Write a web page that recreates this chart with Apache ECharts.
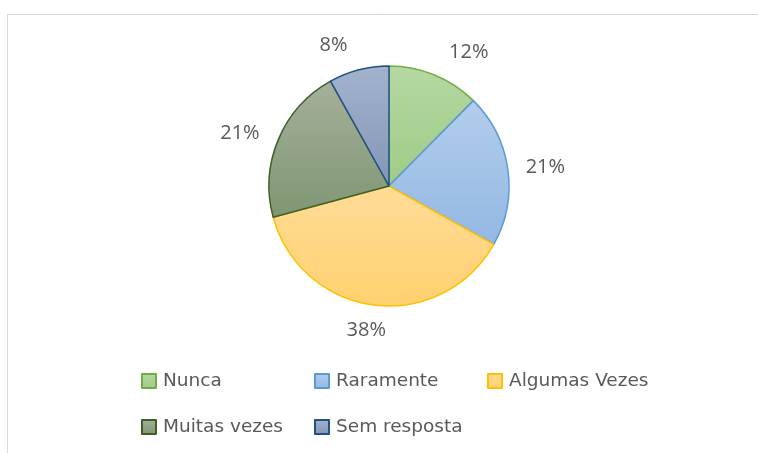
<!DOCTYPE html>
<html>
<head>
<meta charset="utf-8">
<script src="https://cdn.jsdelivr.net/npm/echarts@6/dist/echarts.min.js"></script>
<style>html,body{margin:0;padding:0;background:#fff;}#c{width:758px;height:453px;}</style>
</head>
<body>
<div id="c"></div>
<script>
var categories = ['Nunca', 'Raramente', 'Algumas Vezes', 'Muitas vezes', 'Sem resposta'];
var values = [12.4, 20.7, 37.7, 21.1, 8.1];
var legendRow1 = ['Nunca', 'Raramente', 'Algumas Vezes'];
var legendRow2 = ['Muitas vezes', 'Sem resposta'];

var fills = [
  ['#b6d8a2', '#9ecb86', '#70ad47'],
  ['#b3cdec', '#93b8e3', '#5b9bd5'],
  ['#ffdc98', '#ffd06e', '#ffc000'],
  ['#a6b09c', '#7f9672', '#3d5f29'],
  ['#a3b3cd', '#8396b7', '#215183']
];
var labelLen = [25, 13, 25, 15, 25];
function grad(a, b) {
  return new echarts.graphic.LinearGradient(0, 0, 0, 1, [{offset: 0, color: a}, {offset: 1, color: b}]);
}
var data = categories.map(function (c, i) {
  return {
    name: c,
    value: values[i],
    itemStyle: {color: grad(fills[i][0], fills[i][1]), borderColor: fills[i][2], borderWidth: 1.5},
    labelLine: {show: false, length: labelLen[i], length2: 0}
  };
});
var font = '"Open Sans", "Noto Sans", sans-serif';
var legendCommon = {
  orient: 'horizontal',
  left: 136,
  icon: 'rect',
  itemWidth: 14,
  itemHeight: 14,
  itemGap: 10,
  textStyle: {color: '#595959', fontSize: 18.5, fontFamily: '"DejaVu Sans", sans-serif', width: 141, lineHeight: 22, padding: [0, 0, 0, 2]}
};
var chart = echarts.init(document.getElementById('c'));
chart.setOption({
  animation: false,
  backgroundColor: '#ffffff',
  graphic: [{
    type: 'rect', silent: true,
    shape: {x: 7.5, y: 14.5, width: 800, height: 500},
    style: {fill: 'none', stroke: '#d9d9d9', lineWidth: 1}
  }],
  legend: [
    Object.assign({}, legendCommon, {top: 365, data: legendRow1}),
    Object.assign({}, legendCommon, {top: 411, data: legendRow2})
  ],
  series: [{
    type: 'pie',
    center: [389, 186],
    radius: 120,
    startAngle: 90,
    clockwise: true,
    avoidLabelOverlap: false,
    percentPrecision: 0,
    label: {
      show: true,
      position: 'outside',
      formatter: '{d}%',
      color: '#595959',
      fontSize: 20,
      fontFamily: font,
      distanceToLabelLine: 5
    },
    labelLine: {show: false, length: 25, length2: 0},
    labelLayout: function (p) {
      return p.dataIndex === 2 ? {align: 'center'} : {};
    },
    data: data
  }]
});
</script>
</body>
</html>
